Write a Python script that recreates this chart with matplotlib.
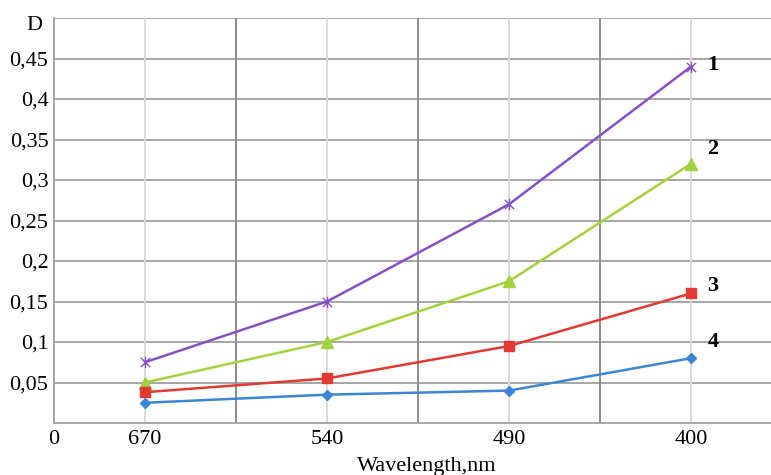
import matplotlib
matplotlib.use('Agg')
import matplotlib.pyplot as plt
from matplotlib.path import Path

plt.rcParams['font.family'] = ['Liberation Serif', 'DejaVu Serif']

# 数据
wavelengths = ['670', '540', '490', '400']
d1 = [0.075, 0.15, 0.27, 0.44]
d2 = [0.05, 0.10, 0.175, 0.32]
d3 = [0.038, 0.055, 0.095, 0.16]
d4 = [0.025, 0.035, 0.04, 0.08]
curve_names = ['1', '2', '3', '4']
y_ticks = [0.05, 0.1, 0.15, 0.2, 0.25, 0.3, 0.35, 0.4, 0.45]

# Excel 风格的 "星" 标记: x 加一竖
star = Path([(-1, -1), (1, 1), (-1, 1), (1, -1), (0, -1.2), (0, 1.2)],
            [Path.MOVETO, Path.LINETO, Path.MOVETO, Path.LINETO, Path.MOVETO, Path.LINETO])

fig = plt.figure(figsize=(7.71, 4.75), dpi=100)
ax = fig.add_axes([54 / 771, 52 / 475, 728 / 771, 405 / 475])

xs = [i + 0.5 for i in range(len(wavelengths))]

# 网格
for y in y_ticks + [0.5]:
    ax.axhline(y, color='#a6a6a6', linewidth=1.4, zorder=0)
for i in range(1, 4):
    ax.axvline(i, color='#8c8c8c', linewidth=1.4, zorder=0)
for x in xs:
    ax.axvline(x, color='#d9d9d9', linewidth=1.4, zorder=0)

series = [
    (d1, '#8552c4', star, 8),
    (d2, '#a2d33e', '^', 8),
    (d3, '#e23a32', 's', 7),
    (d4, '#3d86d6', 'D', 5),
]
for (vals, color, marker, ms), name in zip(series, curve_names):
    ax.plot(xs, vals, color=color, linewidth=1.8, marker=marker, markersize=ms,
            markeredgecolor=color, markerfacecolor=color, markeredgewidth=1.0, zorder=3)

label_y = [0.442, 0.338, 0.169, 0.0996]
for name, ly in zip(curve_names, label_y):
    ax.text(xs[-1] + 0.09, ly, name, fontsize=16, fontweight='bold', va='center', ha='left')

ax.set_xlim(0, 4)
ax.set_ylim(0, 0.5)
ax.set_xticks([0] + xs)
ax.set_xticklabels(['0'] + wavelengths)
ax.set_yticks(y_ticks)
ax.set_yticklabels([f'{v:g}'.replace('.', ',') for v in y_ticks])
ax.tick_params(length=0, labelsize=16, pad=5)
ax.tick_params(axis='y', pad=4)

for s in ['top', 'right']:
    ax.spines[s].set_visible(False)
for s in ['left', 'bottom']:
    ax.spines[s].set_color('#a6a6a6')
    ax.spines[s].set_linewidth(1.4)

fig.text(34 / 771, 1 - 25 / 475, 'D', fontsize=16, ha='center', va='center')
fig.text(427 / 771, 1 - 467 / 475, 'Wavelength,nm', fontsize=16, ha='center', va='center')

plt.savefig('out.png', dpi=100)
plt.close()
